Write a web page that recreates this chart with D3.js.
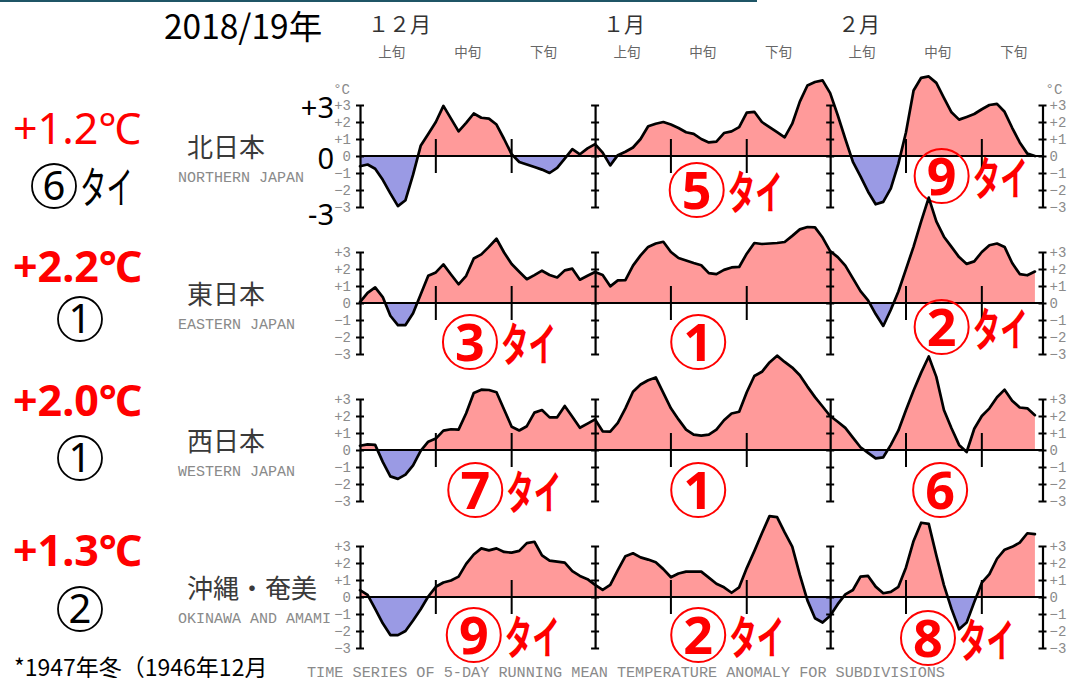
<!DOCTYPE html>
<html><head><meta charset="utf-8">
<script src="https://cdn.jsdelivr.net/npm/d3@7"></script>
<style>
html,body{margin:0;padding:0;background:#fff;}
svg{display:block;}
</style></head>
<body>
<svg id="chart" width="1067" height="678"></svg>
<script>
// Daily 5-day running mean temperature anomaly (°C), Dec 1 .. Feb 28
const northValues = [
  -0.6,-0.5,-0.75,-1.4,-2.2,-2.95,-2.6,-1.1,0.6,1.3,
  2.0,2.95,2.2,1.45,1.95,2.5,2.25,2.2,1.85,1.0,
  0.1,-0.35,-0.5,-0.65,-0.8,-1.0,-0.7,-0.15,0.4,0.1,
  0.45,0.7,0.2,-0.55,0.05,0.25,0.5,1.0,1.75,1.9,
  2.0,1.85,1.65,1.4,1.3,1.0,0.8,0.85,1.35,1.45,
  1.7,2.55,2.6,2.0,1.7,1.4,1.1,1.9,3.2,4.15,
  4.35,4.45,3.7,2.4,1.0,-0.35,-1.2,-2.1,-2.84,-2.7,
  -1.9,-0.45,1.4,3.85,4.6,4.68,4.3,3.42,2.57,2.14,
  2.3,2.47,2.75,3.0,3.07,2.6,1.66,0.8,0.14,0.0];
const eastValues = [
  0.05,0.6,0.92,0.35,-0.75,-1.3,-1.3,-0.6,0.5,1.6,
  1.8,2.27,1.68,1.1,1.6,2.62,2.86,3.3,3.78,2.97,
  2.29,1.84,1.4,1.64,1.9,1.65,1.5,1.92,2.02,1.37,
  1.6,1.82,1.65,0.98,1.33,1.35,2.2,2.8,3.3,3.5,
  3.6,3.0,2.65,2.5,2.35,2.22,1.76,1.7,1.95,2.09,
  2.12,2.9,3.53,3.47,3.5,3.53,3.59,3.95,4.33,4.47,
  4.45,3.85,3.05,2.7,2.2,1.45,0.7,0.15,-0.65,-1.35,
  -0.4,0.68,1.99,3.32,4.8,6.2,4.8,3.9,3.3,2.7,
  2.3,2.45,3.0,3.4,3.5,3.3,2.35,1.7,1.63,1.85];
const westValues = [
  0.25,0.33,0.3,-0.7,-1.55,-1.7,-1.45,-0.9,-0.05,0.49,
  0.67,1.14,1.22,1.2,2.16,3.35,3.55,3.53,3.4,2.38,
  1.37,1.15,1.4,2.2,2.35,1.92,1.92,2.59,1.95,1.31,
  1.55,1.8,1.1,1.08,1.6,2.45,3.43,3.85,4.1,4.27,
  3.36,2.45,1.8,1.2,0.9,0.85,0.9,1.2,1.75,2.15,
  2.25,3.4,4.35,4.6,5.15,5.55,5.18,4.85,4.4,3.73,
  3.11,2.56,2.0,1.66,1.3,0.73,0.16,-0.17,-0.49,-0.43,
  0.3,1.15,2.35,3.5,4.55,5.5,4.3,2.35,1.28,0.3,
  -0.12,1.25,2.0,2.45,3.1,3.55,2.9,2.5,2.45,2.05];
const okinawaValues = [
  0.4,0.12,-0.7,-1.55,-2.24,-2.24,-2.0,-1.38,-0.72,0.03,
  0.6,0.85,0.97,1.2,1.95,2.5,2.86,2.74,2.86,2.65,
  2.61,2.71,3.17,3.25,2.45,2.14,2.08,2.02,1.52,1.24,
  1.05,0.71,0.42,0.71,1.58,2.4,2.57,2.33,2.2,2.04,
  1.64,1.16,1.38,1.49,1.49,1.49,1.14,0.78,0.57,0.25,
  0.57,1.7,2.7,3.75,4.76,4.7,3.8,2.96,1.3,-0.2,
  -1.25,-1.5,-1.1,-0.42,0.15,0.41,1.2,1.24,0.61,0.22,
  0.3,0.6,1.74,3.3,4.37,4.3,2.45,0.7,-0.7,-1.9,
  -1.5,-0.3,0.84,1.35,2.25,2.78,2.95,3.2,3.75,3.7];

const regionNamesJa = ["北日本", "東日本", "西日本", "沖縄・奄美"];
const regionNamesEn = ["NORTHERN JAPAN", "EASTERN JAPAN", "WESTERN JAPAN", "OKINAWA AND AMAMI"];
const seasonAnomaly = ["+1.2℃", "+2.2℃", "+2.0℃", "+1.3℃"];
const seasonRankDigit = ["6", "1", "1", "2"];
const seasonRankTie = [true, false, false, false];
// monthly rank (Dec, Jan, Feb): digit and whether tied
const northRanks = ["", "5タイ", "9タイ"];
const eastRanks = ["3タイ", "1", "2タイ"];
const westRanks = ["7タイ", "1", "6"];
const okinawaRanks = ["9タイ", "2タイ", "8タイ"];

const monthLabels = ["１２月", "１月", "２月"];
const monthStarts = [0, 31, 62];
const dekadLabels = ["上旬", "中旬", "下旬"];
const yTicks = [3, 2, 1, 0, -1, -2, -3];

const series = [northValues, eastValues, westValues, okinawaValues];
const rankSets = [northRanks, eastRanks, westRanks, okinawaRanks];

const W = 1067, H = 678;
const JP = "'Noto Sans CJK JP', sans-serif";
const MONO = "'Liberation Mono', 'DejaVu Sans Mono', monospace";
const SANS = "'Noto Sans', 'Noto Sans CJK JP', sans-serif";
const PINK = "#ff9a9a", BLUE = "#9a9ae4", RED = "#ff0000";

const svg = d3.select("#chart");
const defs = svg.append("defs");

// top rule
svg.append("rect").attr("x", 0).attr("y", 0).attr("width", 757).attr("height", 2).attr("fill", "#1f5566");

const x = d3.scaleLinear().domain([0, 90]).range([360, 1042.5]);
const zeroY = [156, 303, 450, 597];
const halfSpan = 51;

// left column layout: anomaly baseline and rank-circle centre for each region
const seasonTextY = [144, 282, 416, 566];
const seasonBadgeY = [186, 319, 458, 609];

// header: season title, months, dekads
svg.append("text").attr("x", 164).attr("y", 39).attr("font-family", JP).attr("font-size", 33.5)
  .attr("fill", "#000").text("2018/19年");
monthLabels.forEach((m, i) => {
  svg.append("text").attr("x", x(monthStarts[i] + 1.05)).attr("y", 32)
    .attr("font-family", JP).attr("font-size", 21).attr("fill", "#333").text(m);
  dekadLabels.forEach((dk, k) => {
    svg.append("text").attr("x", x(monthStarts[i] + 4.2 + 10 * k)).attr("y", 57)
      .attr("text-anchor", "middle").attr("font-family", JP).attr("font-size", 13.5)
      .attr("fill", "#666").text(dk);
  });
});

const fmt = d => d > 0 ? "+" + d : d < 0 ? "−" + (-d) : "0";

function styleAxis(g, withLabels) {
  g.select(".domain").attr("stroke", "#000").attr("stroke-width", 2.2);
  g.selectAll(".tick line").attr("x1", -4).attr("x2", 4).attr("stroke", "#000").attr("stroke-width", 2);
  g.selectAll(".tick text").attr("font-family", MONO).attr("font-size", 14).attr("fill", "#8a8a8a");
  if (!withLabels) g.selectAll(".tick text").remove();
}

function badge(parent, cx, cy, r, digit, color, opts) {
  parent.append("circle").attr("cx", cx).attr("cy", cy).attr("r", r)
    .attr("fill", "none").attr("stroke", color).attr("stroke-width", opts.sw);
  parent.append("text").attr("x", cx).attr("y", cy + opts.fs * 0.357)
    .attr("text-anchor", "middle").attr("font-family", SANS).attr("font-size", opts.fs)
    .attr("font-weight", opts.fw).attr("fill", color).text(digit);
}
function tieText(parent, x0, baseline, color, fs, fw) {
  parent.append("g").attr("transform", `translate(${x0},${baseline}) scale(0.6,1)`)
    .append("text").attr("font-family", JP).attr("font-size", fs).attr("font-weight", fw)
    .attr("fill", color).text("タイ");
}

// placement of the monthly rank marks: [day position, offset below zero]
const rankPos = [
  [[0, 0], [44.4, 34], [76.7, 20]],
  [[14.5, 39], [44.6, 39], [76.7, 24]],
  [[15.2, 40], [44.6, 40], [76.5, 40]],
  [[15.0, 38], [44.6, 38], [74.9, 41]]
];

series.forEach((vals, i) => {
  const z = zeroY[i];
  const y = d3.scaleLinear().domain([-3, 3]).range([z + halfSpan, z - halfSpan]);
  const g = svg.append("g");

  defs.append("clipPath").attr("id", "pos" + i).append("rect")
    .attr("x", 0).attr("y", 0).attr("width", W).attr("height", y(0));
  defs.append("clipPath").attr("id", "neg" + i).append("rect")
    .attr("x", 0).attr("y", y(0)).attr("width", W).attr("height", H - y(0));

  const area = d3.area().x((d, j) => x(j)).y0(y(0)).y1(d => y(d));
  g.append("path").datum(vals).attr("d", area).attr("fill", PINK).attr("clip-path", `url(#pos${i})`);
  g.append("path").datum(vals).attr("d", area).attr("fill", BLUE).attr("clip-path", `url(#neg${i})`);

  // zero line
  g.append("line").attr("x1", x(0)).attr("x2", x(90)).attr("y1", y(0)).attr("y2", y(0))
    .attr("stroke", "#000").attr("stroke-width", 2.2);

  // dekad ticks
  monthStarts.forEach(ms => [10, 20].forEach(off => {
    g.append("line").attr("x1", x(ms + off)).attr("x2", x(ms + off))
      .attr("y1", y(1)).attr("y2", y(-1)).attr("stroke", "#000").attr("stroke-width", 2);
  }));

  // axes
  const left = g.append("g").attr("transform", `translate(${x(0)},0)`)
    .call(d3.axisLeft(y).tickValues(yTicks).tickFormat(fmt).tickSize(4).tickSizeOuter(0).tickPadding(5));
  styleAxis(left, true);
  [31, 62].forEach(d => {
    const a = g.append("g").attr("transform", `translate(${x(d)},0)`)
      .call(d3.axisLeft(y).tickValues(yTicks).tickSize(4).tickSizeOuter(0));
    styleAxis(a, false);
  });
  const right = g.append("g").attr("transform", `translate(${x(90)},0)`)
    .call(d3.axisRight(y).tickValues(yTicks).tickFormat(fmt).tickSize(4).tickSizeOuter(0).tickPadding(3));
  styleAxis(right, true);

  if (i === 0) {
    g.append("text").attr("x", x(0) - 10).attr("y", y(3) - 11).attr("text-anchor", "end")
      .attr("font-family", MONO).attr("font-size", 14).attr("fill", "#8a8a8a").text("°C");
    g.append("text").attr("x", x(90) + 3).attr("y", y(3) - 11)
      .attr("font-family", MONO).attr("font-size", 14).attr("fill", "#8a8a8a").text("°C");
    // large scale marks
    [[3, "+3", 13], [0, "0", 13], [-3, "-3", 18]].forEach(([v, t, dy]) => {
      g.append("text").attr("x", 334).attr("y", y(v) + dy).attr("text-anchor", "end")
        .attr("font-family", SANS).attr("font-size", 29).attr("fill", "#000").text(t);
    });
  }

  // anomaly curve
  g.append("path").datum(vals)
    .attr("d", d3.line().x((d, j) => x(j)).y(d => y(d)))
    .attr("fill", "none").attr("stroke", "#000").attr("stroke-width", 2.7)
    .attr("stroke-linejoin", "round").attr("stroke-linecap", "round");

  // region names
  svg.append("text").attr("x", 187).attr("y", z + 1).attr("font-family", JP).attr("font-size", 26)
    .attr("fill", "#3a3a3a").text(regionNamesJa[i]);
  svg.append("text").attr("x", 178).attr("y", z + 26).attr("font-family", MONO).attr("font-size", 15)
    .attr("fill", "#8a8a8a").text(regionNamesEn[i]);

  // season anomaly and rank
  svg.append("text").attr("x", 13).attr("y", seasonTextY[i]).attr("font-family", SANS).attr("font-size", 43)
    .attr("font-weight", i === 0 ? 400 : 700).attr("fill", RED).text(seasonAnomaly[i]);
  const rcx = seasonRankTie[i] ? 54 : 80;
  badge(svg, rcx, seasonBadgeY[i], 22, seasonRankDigit[i], "#000", {sw: 1.8, fs: 40, fw: 400});
  if (seasonRankTie[i]) tieText(svg, 80, seasonBadgeY[i] + 18, "#000", 44, 400);

  // monthly rank marks
  rankSets[i].forEach((r, k) => {
    if (!r) return;
    const [day, off] = rankPos[i][k];
    const cx = x(day), cy = z + off;
    badge(svg, cx, cy, 27, r[0], RED, {sw: 2, fs: 52, fw: 700});
    if (r.length > 1) tieText(svg, cx + 31, cy + 19, RED, 46, 700);
  });
});

// footer
svg.append("text").attr("x", 14).attr("y", 676).attr("font-family", JP).attr("font-size", 23)
  .attr("fill", "#000").text("*1947年冬（1946年12月");
svg.append("text").attr("x", 307).attr("y", 677).attr("font-family", MONO).attr("font-size", 15.2)
  .attr("fill", "#8a8a8a").text("TIME SERIES OF 5-DAY RUNNING MEAN TEMPERATURE ANOMALY FOR SUBDIVISIONS");
</script>
</body></html>
